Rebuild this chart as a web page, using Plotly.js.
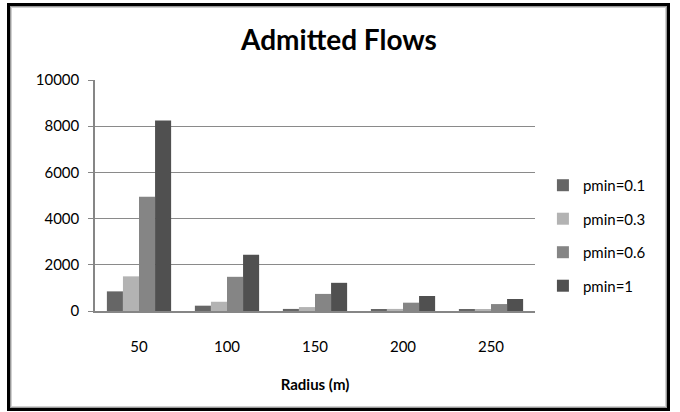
<!DOCTYPE html>
<html>
<head>
<meta charset="utf-8">
<script src="https://cdn.plot.ly/plotly-3.0.1.min.js"></script>
<style>
  html, body { margin: 0; padding: 0; background: #ffffff; }
  #wrap { position: relative; width: 680px; height: 412px; }
  #chart { width: 680px; height: 412px; }
  #frame {
    position: absolute; left: 7px; top: 3px; width: 663px; height: 408px;
    box-sizing: border-box; border: 3px solid #000;
    box-shadow: inset 0 0 0 1px #9a9a9a, inset 0 0 0 2px #d0d0d0;
    pointer-events: none;
  }
</style>
</head>
<body>
<div id="wrap">
  <div id="chart"></div>
  <div id="frame"></div>
</div>
<script>
const categories = ['50', '100', '150', '200', '250'];
const seriesNames = ['pmin=0.1', 'pmin=0.3', 'pmin=0.6', 'pmin=1'];
const pmin01 = [850, 230, 90, 60, 60];
const pmin03 = [1500, 400, 170, 90, 60];
const pmin06 = [4950, 1480, 740, 360, 300];
const pmin1  = [8250, 2430, 1220, 650, 520];
const yTicks = [0, 2000, 4000, 6000, 8000, 10000];

const seriesValues = [pmin01, pmin03, pmin06, pmin1];
const colors = ['#666666', '#b3b3b3', '#858585', '#505050'];

const FONT = 'Lato, "Open Sans", sans-serif';

const data = seriesValues.map((vals, i) => ({
  type: 'bar',
  name: seriesNames[i],
  x: categories,
  y: vals,
  legendgroup: 'g' + i,
  marker: { color: colors[i], line: { width: 0 } },
  hoverinfo: 'x+y+name'
}));

const layout = {
  width: 680,
  height: 412,
  margin: { l: 95, r: 145, t: 80, b: 101 },
  paper_bgcolor: '#ffffff',
  plot_bgcolor: '#ffffff',
  font: { family: FONT, size: 15, color: '#000000' },
  title: {
    text: '<b>Admitted Flows</b>',
    font: { family: FONT, size: 28, color: '#000000' },
    x: 0.4985, xref: 'container', xanchor: 'center',
    y: 0.903, yref: 'container', yanchor: 'middle'
  },
  barmode: 'group',
  bargap: 0.27,
  bargroupgap: 0,
  showlegend: true,
  legend: {
    x: 1.018, xanchor: 'left',
    y: 0.327, yanchor: 'middle',
    traceorder: 'grouped',
    tracegroupgap: 11,
    font: { family: FONT, size: 15, color: '#000000' },
    bgcolor: 'rgba(0,0,0,0)',
    itemclick: false
  },
  xaxis: {
    type: 'category',
    categoryorder: 'array',
    categoryarray: categories,
    showline: true,
    linecolor: '#868686',
    linewidth: 1.5,
    ticks: '',
    ticklabelstandoff: 21,
    showgrid: false,
    zeroline: false,
    tickfont: { family: FONT, size: 15, color: '#000000' },
    title: {
      text: '<b>Radius (m)</b>',
      font: { family: FONT, size: 15, color: '#000000' },
      standoff: 26
    }
  },
  yaxis: {
    range: [0, 10000],
    tickvals: yTicks,
    ticktext: yTicks.map(String),
    showline: true,
    linecolor: '#868686',
    linewidth: 1.5,
    ticks: 'outside',
    ticklen: 5,
    tickcolor: '#868686',
    tickwidth: 1,
    ticklabelstandoff: 6,
    showgrid: true,
    gridcolor: '#8a8a8a',
    gridwidth: 1,
    zeroline: false,
    tickfont: { family: FONT, size: 15, color: '#000000' }
  }
};

Plotly.newPlot('chart', data, layout, { displayModeBar: false, staticPlot: false });
</script>
</body>
</html>
